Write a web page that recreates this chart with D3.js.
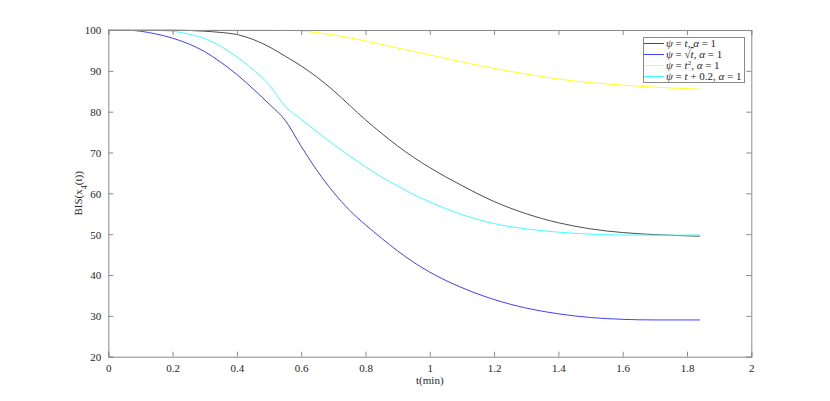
<!DOCTYPE html>
<html><head><meta charset="utf-8">
<script src="https://cdn.jsdelivr.net/npm/d3@7"></script>
<style>body{margin:0;background:#fff;} svg{display:block;} svg text{font-family:"Liberation Serif","Times New Roman","DejaVu Serif",serif !important;}</style>
</head><body>
<svg id="c" width="830" height="401"></svg>
<script>
// ---- data ----
const tGray = [0,0.1,0.2,0.25,0.3,0.35,0.4,0.45,0.5,0.55,0.6,0.65,0.7,0.75,0.8,0.85,0.9,0.95,1.0,1.1,1.2,1.3,1.4,1.5,1.6,1.7,1.84];
const vGray = [100,100,100,99.9,99.7,99.4,98.9,97.7,95.9,93.6,91.2,88.4,85.2,81.6,78.0,74.7,71.6,68.8,66.3,61.9,58.0,55.0,52.8,51.3,50.4,49.9,49.5];

const tBlue = [0,0.05,0.1,0.15,0.2,0.25,0.3,0.35,0.4,0.45,0.5,0.55,0.6,0.65,0.7,0.75,0.8,0.85,0.9,0.95,1.0,1.1,1.2,1.3,1.4,1.5,1.6,1.7,1.84];
const vBlue = [100,100,99.7,99.0,98.0,96.6,94.7,92.1,89.1,85.6,81.9,77.9,71.5,65.5,60.3,55.9,52.3,49.0,45.9,43.1,40.7,36.9,34.0,31.9,30.5,29.6,29.15,29.0,29.0];

const tYellow = [0,0.3,0.5,0.55,0.6,0.7,0.8,0.9,1.0,1.1,1.2,1.3,1.4,1.5,1.6,1.7,1.84];
const vYellow = [100,100,100,99.95,99.75,98.8,97.3,95.6,93.9,92.2,90.6,89.2,88.0,87.1,86.5,86.0,85.5];

const tCyan = [0,0.1,0.15,0.2,0.25,0.3,0.35,0.4,0.45,0.5,0.55,0.6,0.65,0.7,0.75,0.8,0.85,0.9,0.95,1.0,1.1,1.2,1.3,1.4,1.5,1.6,1.7,1.84];
const vCyan = [100,100,99.9,99.7,99.0,97.9,96.0,93.4,90.3,86.6,81.3,78.1,75.0,72.0,69.2,66.5,64.0,61.8,59.7,57.9,54.8,52.6,51.3,50.5,50.0,49.8,49.75,49.8];

const xTicks = [0,0.2,0.4,0.6,0.8,1,1.2,1.4,1.6,1.8,2];
const yTicks = [20,30,40,50,60,70,80,90,100];

const seriesColors = ["#4d4d4d","#4040ff","#ffff22","#44ffff"];

// ---- chart ----
const svg = d3.select("#c");
const L = 108.3, R = 751.3, T = 30, B = 356.7;
const x = d3.scaleLinear().domain([0,2]).range([L,R]);
const y = d3.scaleLinear().domain([20,100]).range([B,T]);
const axisColor = "#8a8a8a", textColor = "#262626";
const serif = "Liberation Serif";

const line = d3.line().x(d=>x(d[0])).y(d=>y(d[1])).curve(d3.curveMonotoneX);
const series = [
  {t:tGray, v:vGray},
  {t:tBlue, v:vBlue},
  {t:tYellow, v:vYellow},
  {t:tCyan, v:vCyan}
];
series.forEach((s,i)=>{
  svg.append("path").datum(s.t.map((t,j)=>[t,s.v[j]]))
    .attr("d", line).attr("fill","none")
    .attr("stroke", seriesColors[i]).attr("stroke-width",1);
});

// axes (box with inward ticks)
const gBottom = svg.append("g").attr("transform",`translate(0,${B})`)
  .call(d3.axisBottom(x).tickValues(xTicks).tickSize(-5).tickPadding(8).tickFormat(d3.format("")));
const gTop = svg.append("g").attr("transform",`translate(0,${T})`)
  .call(d3.axisTop(x).tickValues(xTicks).tickSize(-5).tickFormat(""));
const gLeft = svg.append("g").attr("transform",`translate(${L},0)`)
  .call(d3.axisLeft(y).tickValues(yTicks).tickSize(-5).tickPadding(7));
const gRight = svg.append("g").attr("transform",`translate(${R},0)`)
  .call(d3.axisRight(y).tickValues(yTicks).tickSize(-5).tickFormat(""));
[gBottom,gTop,gLeft,gRight].forEach(g=>{
  g.attr("font-family",serif).attr("font-size",11);
  g.select(".domain").attr("stroke",axisColor).attr("stroke-width",1);
  g.selectAll(".tick line").attr("stroke",axisColor);
  g.selectAll("text").attr("fill",textColor);
});
gBottom.selectAll("text").attr("dy","0.71em");
gLeft.selectAll("text").attr("dy","0.35em");

// axis labels
svg.append("text").attr("x",(L+R)/2).attr("y",384).attr("text-anchor","middle")
  .attr("fill",textColor).attr("font-size",11).text("t(min)");
const yl = svg.append("text").attr("transform",`translate(82,${(T+B)/2}) rotate(-90)`)
  .attr("text-anchor","middle").attr("fill",textColor).attr("font-size",11);
yl.append("tspan").text("BIS(x");
yl.append("tspan").attr("baseline-shift","sub").attr("font-size",8).text("4");
yl.append("tspan").text("(t))");

// legend
const lg = svg.append("g");
lg.append("rect").attr("x",643.5).attr("y",37.5).attr("width",101).attr("height",45)
  .attr("fill","#fff").attr("stroke","#8a8a8a").attr("stroke-width",1);
const rowsY = [43.5,54.5,65.5,76.5];
const legendParts = [
  [["ψ","i"]," = ",["t","i"],", ",["α","i"]," = 1"],
  [["ψ","i"]," = √",["t","io"],", ",["α","i"]," = 1"],
  [["ψ","i"]," = ",["t","i"],["2","s"],", ",["α","i"]," = 1"],
  [["ψ","i"]," = ",["t","i"]," + 0.2, ",["α","i"]," = 1"]
];
rowsY.forEach((ry,i)=>{
  lg.append("line").attr("x1",644).attr("x2",664).attr("y1",ry).attr("y2",ry)
    .attr("stroke",seriesColors[i]).attr("stroke-width",1);
  const tx = lg.append("text").attr("x",666).attr("y",ry).attr("dy","0.33em")
    .attr("fill",textColor).attr("font-size",11)
    .attr("xml:space","preserve");
  legendParts[i].forEach(p=>{
    if (typeof p === "string") { tx.append("tspan").text(p); return; }
    const ts = tx.append("tspan").text(p[0]);
    if (p[1].includes("i")) ts.attr("font-style","italic");
    if (p[1].includes("o")) ts.style("text-decoration","overline");
    if (p[1]==="s") ts.attr("baseline-shift","super").attr("font-size",7);
  });
});
</script>
</body></html>
